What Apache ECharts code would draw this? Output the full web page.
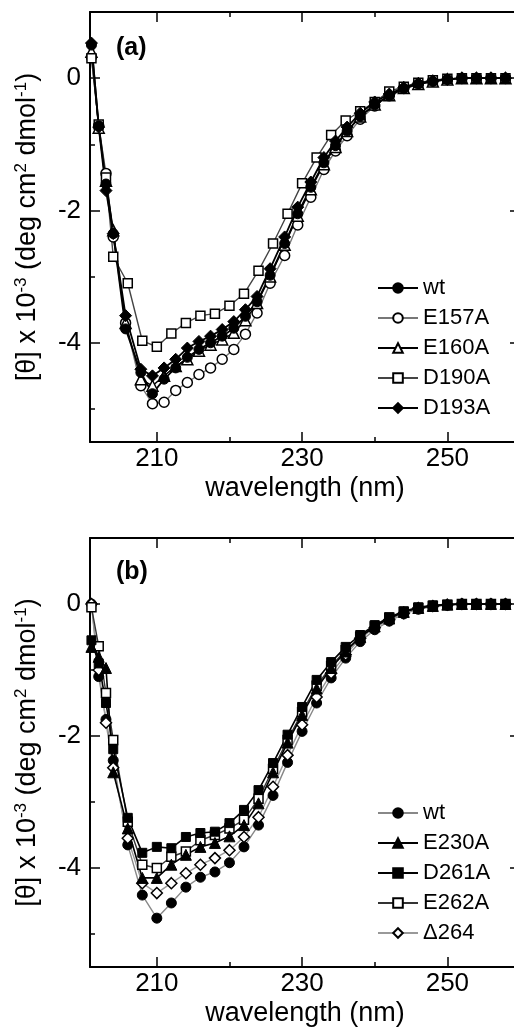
<!DOCTYPE html>
<html>
<head>
<meta charset="utf-8">
<script src="https://cdn.jsdelivr.net/npm/echarts@6/dist/echarts.min.js"></script>
<style>
html, body { margin: 0; padding: 0; background: #fff; }
#chart { width: 514px; height: 1034px; }
</style>
</head>
<body>
<div id="chart"></div>
<script>
// panel (a): wavelengths (nm)
const xA = [201, 202, 203, 204, 205.7, 207.8, 209.4, 211, 212.6, 214.2, 215.8, 217.4, 219, 220.6, 222.2, 223.8,
  225.6, 227.6, 229.4, 231.2, 233, 234.6, 236.2, 238, 240, 242, 244, 246, 248, 250, 252, 254, 256, 258];
const xA2 = [201, 202, 203, 204, 206, 208, 210, 212, 214, 216, 218, 220, 222, 224, 226, 228, 230, 232, 234, 236,
  238, 240, 242, 244, 246, 248, 250, 252, 254, 256, 258];

const wtA = [0.5, -0.72, -1.6, -2.35, -3.79, -4.45, -4.77, -4.55, -4.38, -4.22, -4.1, -4.0, -3.9, -3.78, -3.6, -3.38,
  -2.98, -2.5, -2.05, -1.65, -1.28, -1.02, -0.8, -0.58, -0.4, -0.27, -0.16, -0.09, -0.05, -0.02, 0, 0, 0, 0];
const e157A = [0.32, -0.72, -1.44, -2.4, -3.7, -4.65, -4.92, -4.9, -4.72, -4.6, -4.48, -4.38, -4.25, -4.1, -3.87, -3.55,
  -3.1, -2.68, -2.22, -1.8, -1.38, -1.1, -0.87, -0.62, -0.42, -0.26, -0.15, -0.08, -0.04, -0.02, 0, 0, 0, 0];
const e160A = [0.4, -0.75, -1.55, -2.3, -3.7, -4.55, -4.65, -4.5, -4.35, -4.25, -4.12, -4.03, -3.95, -3.85, -3.66, -3.4,
  -3.0, -2.52, -2.08, -1.68, -1.3, -1.04, -0.8, -0.58, -0.4, -0.26, -0.15, -0.09, -0.05, -0.02, 0, 0, 0, 0];
const d193A = [0.53, -0.74, -1.7, -2.35, -3.59, -4.4, -4.5, -4.38, -4.25, -4.08, -3.98, -3.9, -3.8, -3.68, -3.5, -3.3,
  -2.88, -2.4, -1.95, -1.57, -1.2, -0.95, -0.74, -0.53, -0.36, -0.24, -0.14, -0.08, -0.04, -0.02, 0, 0, 0, 0];
const d190A = [0.3, -0.7, -1.5, -2.7, -3.1, -3.97, -4.06, -3.86, -3.7, -3.59, -3.56, -3.44, -3.26, -2.91, -2.5, -2.05,
  -1.59, -1.2, -0.86, -0.64, -0.5, -0.36, -0.2, -0.13, -0.07, -0.03, -0.01, 0, 0, 0, 0];

// panel (b)
const xB = [201, 202, 203, 204, 206, 208, 210, 212, 214, 216, 218, 220, 222, 224, 226, 228, 230, 232, 234, 236,
  238, 240, 242, 244, 246, 248, 250, 252, 254, 256, 258];
const wtB = [0, -1.1, -1.75, -2.37, -3.65, -4.41, -4.76, -4.53, -4.29, -4.14, -4.06, -3.92, -3.68, -3.35, -2.9, -2.4,
  -1.93, -1.5, -1.12, -0.82, -0.57, -0.39, -0.26, -0.15, -0.08, -0.04, -0.02, 0, 0, 0, 0];
const e230A = [-0.65, -0.8, -0.97, -2.55, -3.4, -4.15, -4.15, -3.95, -3.8, -3.68, -3.62, -3.52, -3.35, -3.02, -2.55, -2.1,
  -1.68, -1.28, -0.97, -0.72, -0.5, -0.34, -0.22, -0.12, -0.06, -0.03, -0.01, 0, 0, 0, 0];
const d261A = [-0.55, -0.9, -1.5, -2.2, -3.24, -3.77, -3.68, -3.7, -3.53, -3.47, -3.45, -3.32, -3.12, -2.82, -2.41, -1.98,
  -1.56, -1.15, -0.88, -0.65, -0.47, -0.32, -0.2, -0.11, -0.05, -0.02, -0.01, 0, 0, 0, 0];
const e262A = [-0.05, -0.64, -1.35, -2.06, -3.3, -3.95, -4.0, -3.83, -3.75, -3.58, -3.5, -3.4, -3.27, -2.95, -2.5, -2.06,
  -1.64, -1.24, -0.94, -0.7, -0.5, -0.34, -0.21, -0.12, -0.06, -0.03, -0.01, 0, 0, 0, 0];
const d264 = [0, -1.0, -1.8, -2.48, -3.55, -4.23, -4.38, -4.23, -4.08, -3.95, -3.85, -3.73, -3.53, -3.23, -2.77, -2.29,
  -1.83, -1.41, -1.05, -0.77, -0.52, -0.36, -0.24, -0.14, -0.06, -0.03, -0.01, 0, 0, 0, 0];

// ticks
const xMajor = [210, 230, 250];
const xMinor = [220, 240];
const yMajor = [0, -2, -4];
const yMinor = [-1, -3, -5];

const FONT = "'Liberation Sans', Arial, sans-serif";
const chart = echarts.init(document.getElementById('chart'));

function pairs(xs, ys) {
  return xs.map((x, i) => [x, ys[i]]);
}

const axLine = {show: true, onZero: false, lineStyle: {color: '#000', width: 2}};

function xAxesFor(g) {
  const base = {gridIndex: g, type: 'value', min: 200.8, max: 260, splitLine: {show: false}};
  return [
    Object.assign({}, base, {
      position: 'bottom', axisLine: axLine,
      axisTick: {inside: true, length: 10, customValues: xMajor, lineStyle: {color: '#000', width: 1.5}},
      axisLabel: {customValues: xMajor, fontSize: 26, fontFamily: FONT, color: '#000', margin: 4},
      name: 'wavelength (nm)', nameLocation: 'middle', nameGap: 33,
      nameTextStyle: {fontSize: 27, fontFamily: FONT, color: '#000'}
    }),
    Object.assign({}, base, {
      position: 'top', axisLine: axLine,
      axisTick: {inside: true, length: 10, customValues: xMajor, lineStyle: {color: '#000', width: 1.5}},
      axisLabel: {show: false}
    }),
    Object.assign({}, base, {
      position: 'bottom', axisLine: {show: false, onZero: false},
      axisTick: {inside: true, length: 5, customValues: xMinor, lineStyle: {color: '#000', width: 1.5}},
      axisLabel: {show: false}
    }),
    Object.assign({}, base, {
      position: 'top', axisLine: {show: false, onZero: false},
      axisTick: {inside: true, length: 5, customValues: xMinor, lineStyle: {color: '#000', width: 1.5}},
      axisLabel: {show: false}
    })
  ];
}

function yAxesFor(g) {
  const base = {gridIndex: g, type: 'value', min: -5.5, max: 1, splitLine: {show: false}};
  return [
    Object.assign({}, base, {
      position: 'left', axisLine: axLine,
      axisTick: {inside: true, length: 10, customValues: yMajor, lineStyle: {color: '#000', width: 1.5}},
      axisLabel: {customValues: yMajor, fontSize: 26, fontFamily: FONT, color: '#000', margin: 9},
      name: '[θ] x 10{sup|-3} (deg cm{sup|2} dmol{sup|-1})',
      nameLocation: 'middle', nameRotate: 90, nameGap: 47,
      nameTextStyle: {
        fontSize: 27, fontFamily: FONT, color: '#000', lineHeight: 30,
        rich: {sup: {fontSize: 17, fontFamily: FONT, color: '#000', verticalAlign: 'top', lineHeight: 18}}
      }
    }),
    Object.assign({}, base, {
      position: 'right', axisLine: axLine,
      axisTick: {inside: true, length: 10, customValues: yMajor, lineStyle: {color: '#000', width: 1.5}},
      axisLabel: {show: false}
    }),
    Object.assign({}, base, {
      position: 'left', axisLine: {show: false, onZero: false},
      axisTick: {inside: true, length: 5, customValues: yMinor, lineStyle: {color: '#000', width: 1.5}},
      axisLabel: {show: false}
    }),
    Object.assign({}, base, {
      position: 'right', axisLine: {show: false, onZero: false},
      axisTick: {inside: true, length: 5, customValues: yMinor, lineStyle: {color: '#000', width: 1.5}},
      axisLabel: {show: false}
    })
  ];
}

function mkSeries(name, axis, xs, ys, symbol, size, filled, lineColor, lineWidth) {
  return {
    name: name,
    type: 'line',
    xAxisIndex: axis,
    yAxisIndex: axis,
    data: pairs(xs, ys),
    symbol: symbol,
    symbolSize: size,
    showAllSymbol: true,
    lineStyle: {color: lineColor, width: lineWidth},
    itemStyle: filled ? {color: '#000', borderColor: '#000', borderWidth: 1}
                      : {color: '#fff', borderColor: '#000', borderWidth: 1.5},
    emphasis: {disabled: true}
  };
}

const series = [
  mkSeries('E157A', 0, xA, e157A, 'circle', 10, false, '#777', 1.4),
  mkSeries('E160A', 0, xA, e160A, 'triangle', 11, false, '#000', 1.4),
  mkSeries('D190A', 0, xA2, d190A, 'rect', 9, false, '#444', 1.4),
  mkSeries('wt', 0, xA, wtA, 'circle', 10, true, '#000', 1.8),
  mkSeries('D193A', 0, xA, d193A, 'diamond', 12, true, '#000', 1.8),

  mkSeries('wt(b)', 4, xB, wtB, 'circle', 10, true, '#888', 1.4),
  mkSeries('Δ264', 4, xB, d264, 'diamond', 11, false, '#999', 1.4),
  mkSeries('E262A', 4, xB, e262A, 'rect', 9, false, '#333', 1.4),
  mkSeries('E230A', 4, xB, e230A, 'triangle', 11, true, '#000', 1.6),
  mkSeries('D261A', 4, xB, d261A, 'rect', 9, true, '#000', 1.6)
];

const legendBase = {
  orient: 'vertical', left: 372, itemWidth: 40, itemHeight: 12, itemGap: 6,
  textStyle: {fontSize: 22, fontFamily: FONT, color: '#000', lineHeight: 24},
  formatter: function (name) { return name.replace('(b)', ''); }
};

chart.setOption({
  animation: false,
  backgroundColor: '#fff',
  title: [
    {text: '(a)', left: 116, top: 36, padding: 0,
      textStyle: {fontSize: 25, fontWeight: 'bold', fontFamily: FONT, color: '#000'}},
    {text: '(b)', left: 116, top: 560, padding: 0,
      textStyle: {fontSize: 25, fontWeight: 'bold', fontFamily: FONT, color: '#000'}}
  ],
  legend: [
    Object.assign({}, legendBase, {top: 271, data: ['wt', 'E157A', 'E160A', 'D190A', 'D193A']}),
    Object.assign({}, legendBase, {top: 796, data: ['wt(b)', 'E230A', 'D261A', 'E262A', 'Δ264']})
  ],
  grid: [
    {left: 90, top: 12, width: 430, height: 430, outerBoundsMode: 'none'},
    {left: 90, top: 538, width: 430, height: 429, outerBoundsMode: 'none'}
  ],
  xAxis: xAxesFor(0).concat(xAxesFor(1)),
  yAxis: yAxesFor(0).concat(yAxesFor(1)),
  series: series
});
</script>
</body>
</html>
